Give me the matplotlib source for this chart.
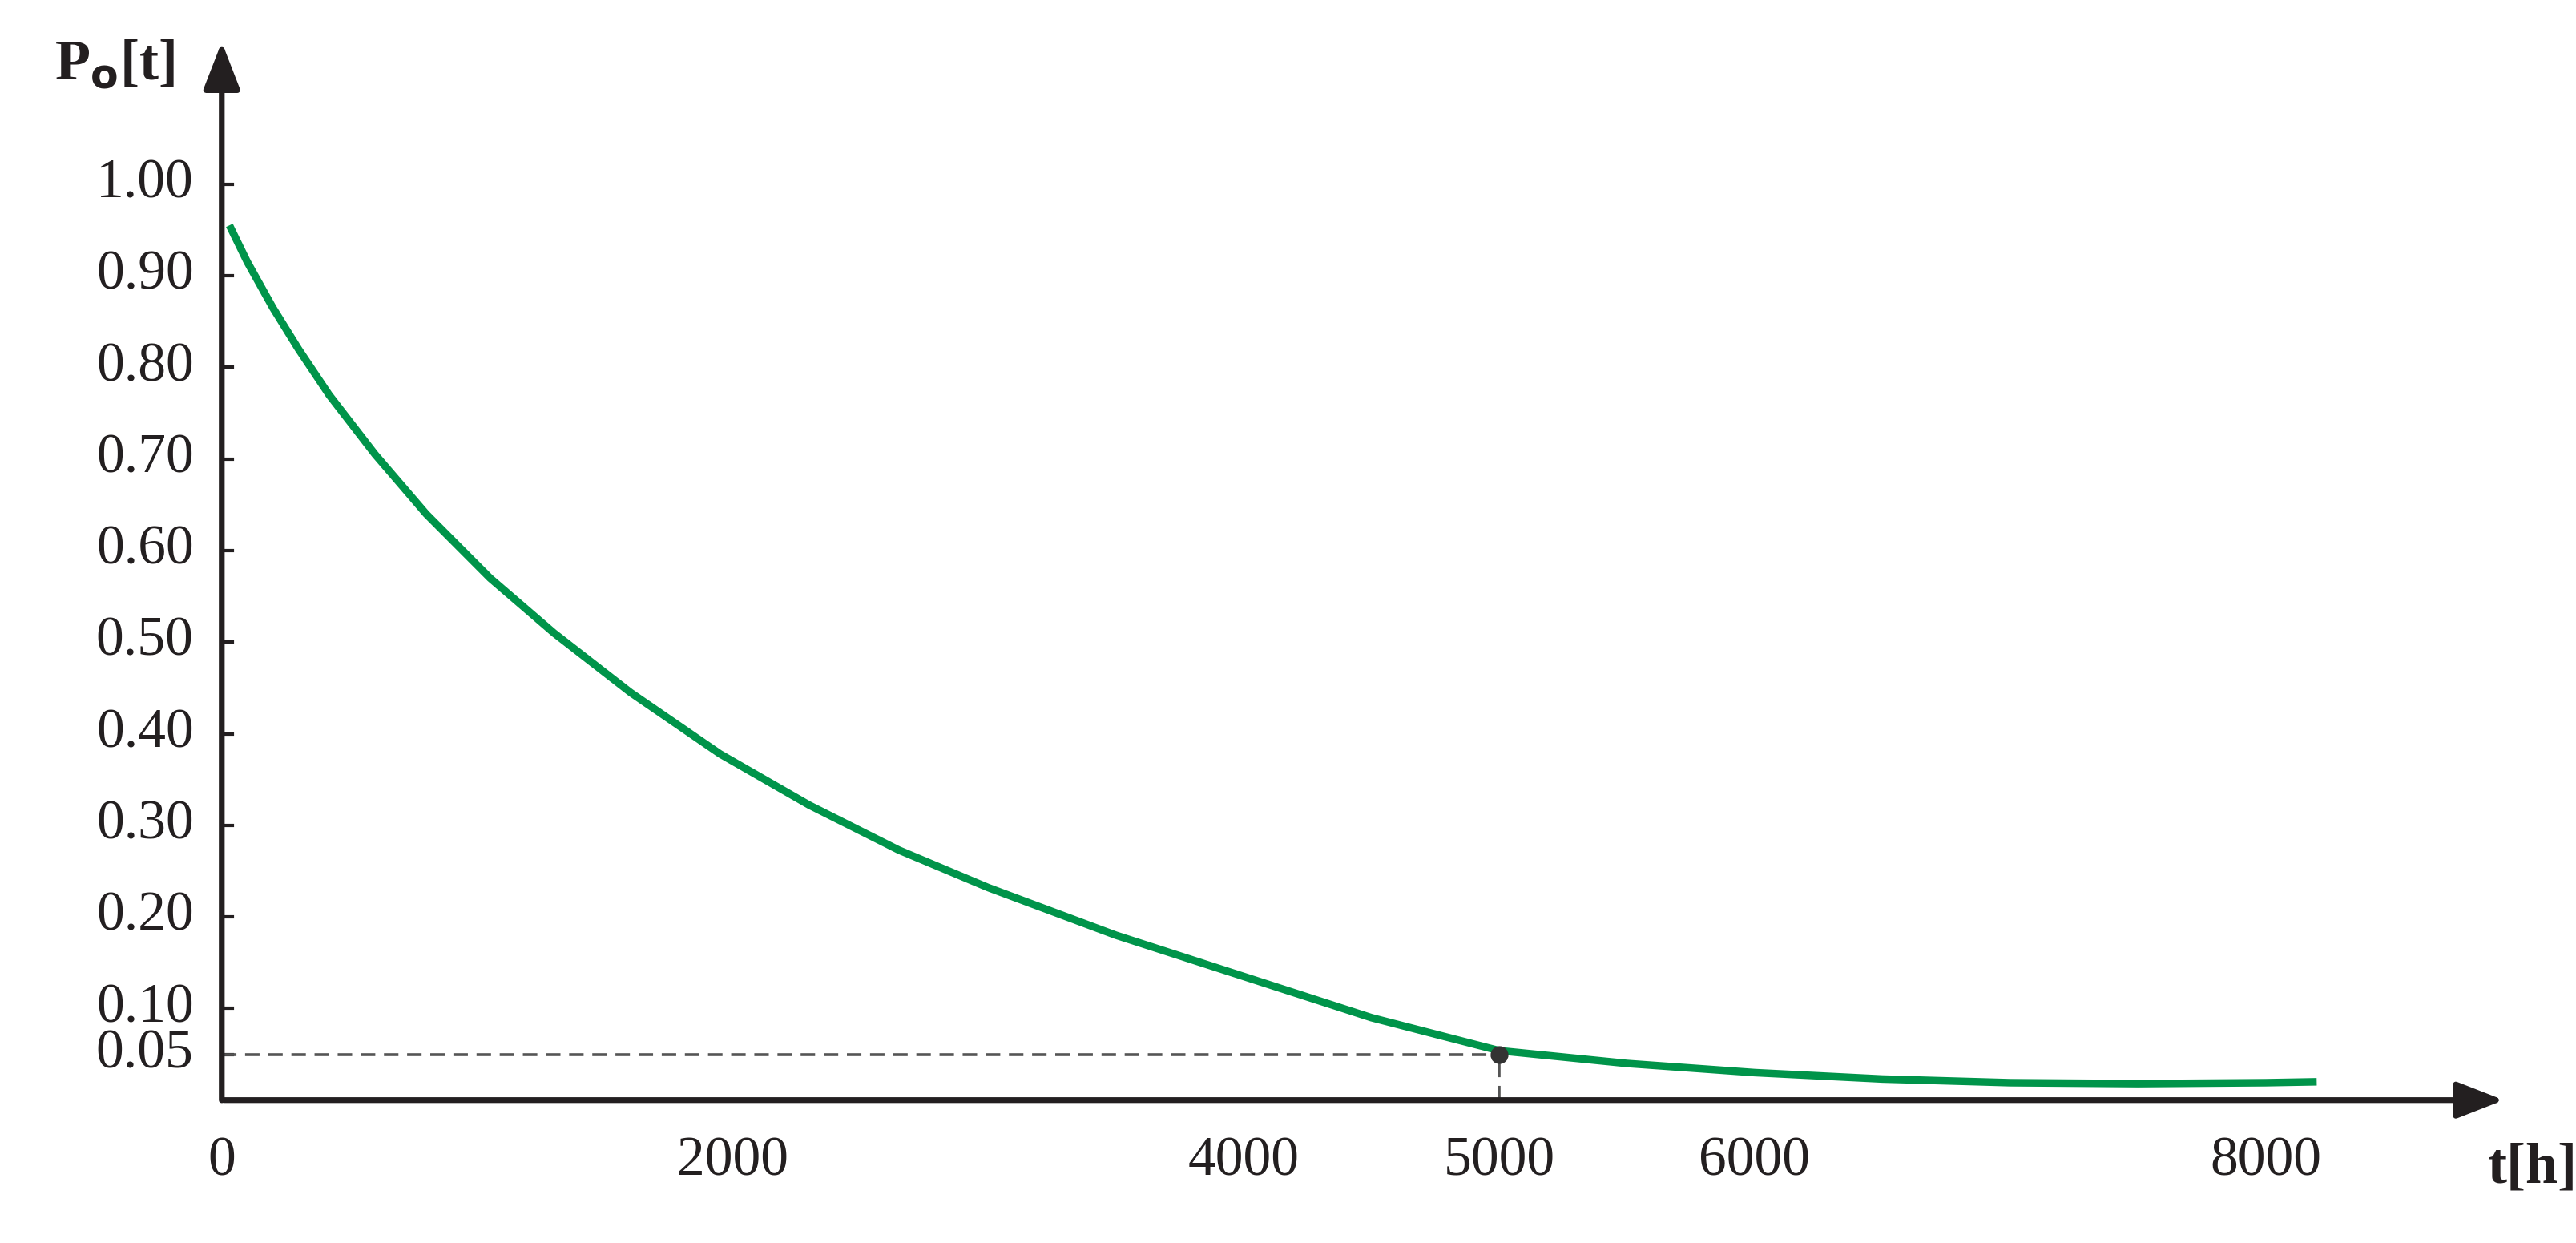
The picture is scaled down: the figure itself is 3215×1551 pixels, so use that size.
import matplotlib.pyplot as plt

# curve
t_hours = [30, 100, 200, 300, 420, 600, 800, 1050, 1300, 1600, 1950, 2300, 2650, 3000, 3500,
           4000, 4500, 5000, 5500, 6000, 6500, 7000, 7500, 8000, 8200]
p_vals  = [0.955, 0.915, 0.865, 0.82, 0.77, 0.705, 0.64, 0.57, 0.51, 0.445, 0.378, 0.322, 0.273,
           0.232, 0.18, 0.135, 0.09, 0.054, 0.040, 0.030, 0.023, 0.019, 0.018, 0.019, 0.020]
y_ticks = [1.00, 0.90, 0.80, 0.70, 0.60, 0.50, 0.40, 0.30, 0.20, 0.10, 0.05]
x_ticks = [0, 2000, 4000, 5000, 6000, 8000]
mark_t, mark_p = 5000, 0.05

GREEN = "#00944a"
DARK = "#231f20"
plt.rcParams["font.family"] = ["Liberation Serif", "DejaVu Serif"]

fig = plt.figure(figsize=(16.075, 7.755), dpi=200)
ax = fig.add_axes([0, 0, 1, 1])
ax.set_xlim(-868, 9215)
ax.set_ylim(-0.156, 1.201)
ax.axis("off")

# axes with arrows
ax.annotate("", xy=(8950, 0), xytext=(-10, 0),
            arrowprops=dict(arrowstyle="-|>,head_length=1.8,head_width=0.7", color=DARK, lw=2.6))
ax.annotate("", xy=(0, 1.16), xytext=(0, -0.005),
            arrowprops=dict(arrowstyle="-|>,head_length=1.8,head_width=0.7", color=DARK, lw=2.6))

for v in y_ticks:
    ax.plot([0, 40], [v, v], color=DARK, lw=1.5)
    ax.text(-110, v, f"{v:.2f}", ha="right", va="center", fontsize=25, color=DARK)
for v in x_ticks:
    ax.text(v, -0.04, f"{v}", ha="center", va="top", fontsize=25, color=DARK)

ax.plot(t_hours, p_vals, color=GREEN, lw=3.4, solid_capstyle="butt", solid_joinstyle="round")
ax.plot([0, mark_t], [mark_p, mark_p], color="#555555", lw=1.3, ls=(0, (5, 3)))
ax.plot([mark_t, mark_t], [0, mark_p], color="#555555", lw=1.3, ls=(0, (5, 3)))
ax.plot([mark_t], [mark_p], "o", color="#333333", ms=7)

ax.text(-420, 1.13, r"P$_{\mathbf{o}}$[t]", fontsize=26, fontweight="bold", ha="center", va="center", color=DARK)
ax.text(8870, -0.075, "t[h]", fontsize=26, fontweight="bold", ha="left", va="center", color=DARK)

fig.savefig("out.png", dpi=200)
